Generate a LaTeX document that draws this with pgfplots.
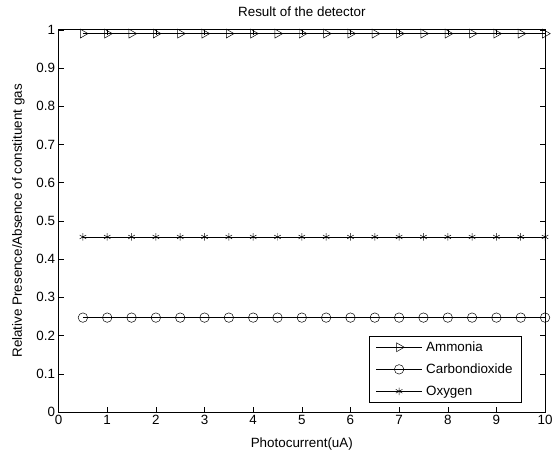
\documentclass[border=0pt]{standalone}
\usepackage{pgfplots}
\pgfplotsset{compat=1.18}
\usepackage{fontspec}
\setmainfont{Liberation Sans}
\usetikzlibrary{plotmarks}
\begin{document}
\begin{tikzpicture}
\begin{axis}[
    name=ax,
    scale only axis,
    width=490bp, height=385bp,
    xmin=0, xmax=10, ymin=0, ymax=1,
    xtick={0,1,...,10},
    ytick={0,0.1,...,1},
    yticklabel style={/pgf/number format/fixed},
    /pgf/number format/assume math mode=true,
    tick align=inside,
    major tick length=5bp,
    tick style={black, line width=0.5pt},
    axis line style={line width=0.7pt},
    font=\fontsize{13.5bp}{15bp}\selectfont,
    title={Result of the detector},
    title style={yshift=4bp},
    xlabel={Photocurrent(uA)},
    ylabel={Relative Presence/Absence of constituent gas},
    xlabel style={yshift=-6bp},
    ylabel style={yshift=5bp},
    legend style={at={(0.952,0.024)}, anchor=south east, draw=black,
        font=\fontsize{13.5bp}{15bp}\selectfont, row sep=7bp,
        inner xsep=7bp, inner ysep=4bp,
        /tikz/every odd column/.append style={column sep=2bp}},
    legend cell align=left,
    legend image code/.code={%
        \draw[mark repeat=2, mark phase=2] plot coordinates {(0bp,0bp) (23bp,0bp) (46bp,0bp)};},
]
\addplot[black, line width=0.5pt, mark=triangle, mark options={rotate=-90, fill=white, scale=2.6}] coordinates {
    (0.5,0.99) (1,0.99) (1.5,0.99) (2,0.99) (2.5,0.99) (3,0.99) (3.5,0.99)
    (4,0.99) (4.5,0.99) (5,0.99) (5.5,0.99) (6,0.99) (6.5,0.99) (7,0.99)
    (7.5,0.99) (8,0.99) (8.5,0.99) (9,0.99) (9.5,0.99) (10,0.99)
};
\addlegendentry{Ammonia}
\addplot[black, line width=0.5pt, mark=o, mark options={fill=white, scale=2.4}] coordinates {
    (0.5,0.247) (1,0.247) (1.5,0.247) (2,0.247) (2.5,0.247) (3,0.247) (3.5,0.247)
    (4,0.247) (4.5,0.247) (5,0.247) (5.5,0.247) (6,0.247) (6.5,0.247) (7,0.247)
    (7.5,0.247) (8,0.247) (8.5,0.247) (9,0.247) (9.5,0.247) (10,0.247)
};
\addlegendentry{Carbondioxide}
\addplot[black, line width=0.5pt, mark=asterisk, mark options={scale=1.9}] coordinates {
    (0.5,0.458) (1,0.458) (1.5,0.458) (2,0.458) (2.5,0.458) (3,0.458) (3.5,0.458)
    (4,0.458) (4.5,0.458) (5,0.458) (5.5,0.458) (6,0.458) (6.5,0.458) (7,0.458)
    (7.5,0.458) (8,0.458) (8.5,0.458) (9,0.458) (9.5,0.458) (10,0.458)
};
\addlegendentry{Oxygen}
\end{axis}
\pgfresetboundingbox
\path[use as bounding box] ([shift={(-59bp,-44bp)}]ax.south west) rectangle ([shift={(9bp,30bp)}]ax.north east);
\end{tikzpicture}
\end{document}
